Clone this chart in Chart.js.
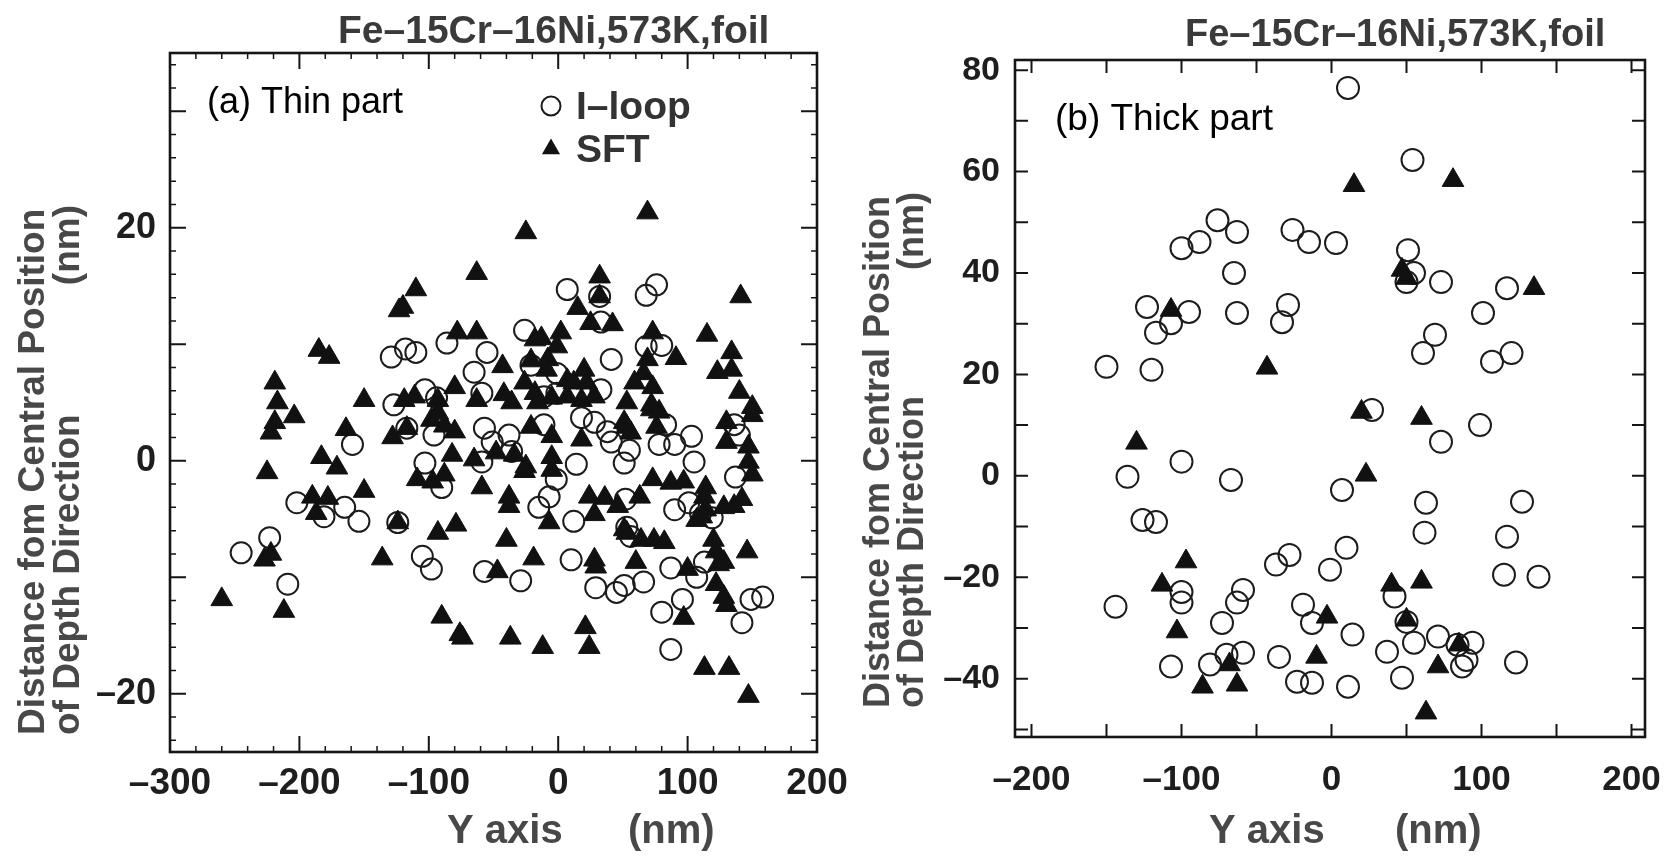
<!DOCTYPE html>
<html><head><meta charset="utf-8">
<script src="https://cdn.jsdelivr.net/npm/chart.js@4.4.1/dist/chart.umd.min.js"></script>
<style>
html,body{margin:0;padding:0;background:#fff;}
#wrap{position:relative;width:1670px;height:857px;overflow:hidden;background:#fff;}
canvas{position:absolute;top:0;}
#ca{left:0px}
#cb{left:845px}
</style></head><body>
<div id="wrap"><canvas id="ca" width="870" height="857"></canvas><canvas id="cb" width="840" height="857"></canvas></div>
<script>
// ---------------- DATA ----------------
const chartTitle = 'Fe–15Cr–16Ni,573K,foil';
const seriesNames = ['I–loop', 'SFT'];
const panelNames = ['(a) Thin part', '(b) Thick part'];
const xTitle = 'Y axis';
const xUnit = '(nm)';
const yTitle1 = 'Distance fom Central Position';
const yTitle2 = 'of Depth Direction';
const yUnit = '(nm)';

// Panel (a) thin part: [Y axis (nm), depth distance (nm)]
const iloopThin = [
[-245,-7.9],[-223,-6.6],[-209,-10.6],[-202,-3.6],[-181,-4.8],[-165,-4.0],[-154,-5.2],[-159,1.4],[-124,-5.3],[-127,4.8],
[-129,8.9],[-118,9.6],[-110,9.3],[-86,10.1],[-55,9.3],[-26,11.2],[-21,8.2],[-1,7.5],[-65,7.6],[-59,5.8],[-103,6.1],[-94,5.4],[-11,5.5],[-1,5.8],[33,6.1],[41,8.7],[33,11.9],[7,14.7],[32,14.1],
[-117,2.8],[-96,2.2],[-57,2.8],[-51,1.6],[-38,2.2],[-11,3.1],[18,3.7],[28,3.3],[38,2.5],[41,1.6],[51,-0.2],[-103,-0.2],[-90,-2.3],[-59,-0.1],[-36,0.8],[14,-0.3],[-1.5,-1.6],[-7,-3.1],[-15,-4.0],[12,-5.2],[52,-3.3],[-105,-8.2],[-98,-9.3],[-57,-9.5],[-29,-10.3],[10,-8.5],[29,-10.9],[45,-11.3],[51,-10.7],
[83,3.1],[78,1.4],[90,1.4],[103,2.1],[105,-0.1],[55,0.9],[136,3.1],[140,2.2],[137,-1.4],[90,-4.2],[101,-3.6],[110,-4.5],[119,-4.9],[53,-5.7],[56,-6.5],[66,-10.4],[87,-9.2],[107,-10.0],[113,-8.7],[149,-11.9],[158,-11.7],[142,-13.9],[80,-13.0],[96,-11.9],[87,-16.2],
[68,14.2],[76,15.1],[68,9.8],[80,9.9]
];
const sftThin = [
[-260,-11.9],[-212,-12.9],[-227,-8.5],[-222,-8.0],[-136,-8.4],[-124,-5.3],[-150,-2.6],[-190,-3.1],[-178,-3.2],[-187,-4.5],[-225,-1.0],[-183,0.3],[-171,-0.6],[-222,2.4],[-164,2.7],[-128,2.0],[-219,3.3],[-204,3.8],[-217,5.0],[-150,5.2],[-219,6.7],[-185,9.5],[-177,8.9],[-123,12.9],
[-25,19.6],[-63,16.1],[-110,14.7],[-120,13.2],[32,15.8],[32,14.1],[15,13.1],[25,11.8],[42,11.7],[-18,10.4],[-13,10.5],[2,11.0],[-1,9.8],[-78,11.0],[-63,11.0],[-43,8.1],[-21,8.6],[-8,8.7],[-9,7.8],[-80,6.3],[-93,5.2],[-111,5.5],[-119,5.2],[-63,5.2],[-42,5.7],[-36,5.0],[-26,6.7],[-18,5.8],[-16,5.0],[-5,5.4],[7,6.9],[12,6.7],[20,7.8],[22,6.7],[7,5.5],[18,5.2],[28,5.5],
[-117,2.8],[-93,4.1],[-98,3.5],[-88,3.0],[-80,2.5],[-21,2.9],[-5,2.1],[18,1.8],[51,3.3],[-82,0.5],[-109,-1.6],[-97,-1.8],[-88,-1.2],[-65,0.1],[-48,0.7],[-34,0.5],[-25,-0.5],[-26,-0.9],[-5,0.3],[-5,-0.8],[-59,-2.3],[-38,-3.1],[-38,-3.9],[-7,-5.3],[24,-3.1],[36,-3.2],[28,-4.6],[46,-3.9],[51,-5.9],[-93,-6.2],[-79,-5.5],[-40,-6.8],[-47,-9.5],[-19,-8.4],[28,-8.5],[29,-9.1],[-90,-13.4],[-76,-14.9],[-74,-15.2],[-37,-15.2],[-12,-16.0],[21,-14.3],[24,-16.0],
[72,4.4],[78,4.2],[53,2.9],[56,2.4],[76,2.9],[130,3.3],[150,3.9],[130,1.6],[147,1.2],[147,-0.1],[150,-1.2],[73,-1.6],[87,-1.9],[97,-1.8],[63,-3.1],[114,-2.3],[113,-3.1],[114,-4.2],[107,-5.1],[111,-4.8],[128,-4.0],[136,-3.9],[142,-3.3],[53,-6.2],[64,-6.8],[74,-6.8],[82,-7.0],[60,-8.7],[100,-9.3],[120,-6.8],[122,-7.8],[124,-8.9],[128,-8.7],[146,-7.8],[122,-10.6],[128,-11.7],[130,-12.4],[97,-13.5],[113,-17.8],[132,-17.8],[147,-20.2],
[69,21.3],[141,14.1],[73,11.0],[115,10.8],[91,8.8],[69,8.7],[66,7.5],[73,6.3],[134,9.3],[134,7.8],[123,7.6],[59,6.7],[53,5.0],[140,5.9],[150,4.6],[72,4.8]
];

// Panel (b) thick part
const iloopThick = [
[-76,50.4],[-63,48.1],[-100,44.9],[-88,46.1],[-26,48.5],[-15,46.1],[3,45.9],[-65,40.0],[-123,33.3],[-95,32.3],[-63,32.1],[-117,28.2],[-107,30.1],[-29,33.7],[-33,30.3],[-150,21.5],[-120,20.9],
[11,76.5],[54,62.3],[51,44.5],[55,40.0],[50,38.2],[73,38.2],[117,37.0],[101,32.1],[69,27.8],[61,24.2],[107,22.5],[120,24.2],
[-136,-0.2],[-100,2.8],[-67,-0.8],[-126,-8.7],[-117,-9.1],[-144,-25.8],[-100,-22.9],[-100,-25.0],[-37,-17.5],[-28,-15.6],[-59,-22.5],[-63,-25.0],[-73,-29.0],[-107,-37.6],[-81,-37.2],[-70,-35.3],[-59,-34.9],[-35,-35.7],[-23,-40.6],[-13,-40.8],[-19,-25.4],[-13,-29.0],
[27,13.0],[99,10.0],[73,6.7],[7,-2.8],[63,-5.3],[127,-5.1],[62,-11.2],[117,-12.0],[10,-14.2],[-1,-18.5],[115,-19.5],[138,-19.9],[42,-23.8],[50,-28.8],[14,-31.3],[37,-34.7],[55,-32.9],[71,-31.7],[84,-33.3],[94,-32.9],[90,-36.3],[87,-37.6],[123,-36.8],[47,-39.8],[11,-41.6]
];
const sftThick = [
[-107,32.7],[-43,21.3],[15,57.3],[81,58.3],[47,40.6],[50,39.0],[135,37.0],
[-130,6.5],[-97,-16.9],[-113,-21.5],[-103,-30.7],[-86,-41.6],[-68,-37.2],[-63,-41.2],
[20,12.6],[60,11.4],[23,0.2],[40,-21.5],[60,-20.9],[-3,-27.8],[50,-28.4],[-10,-35.7],[85,-33.3],[71,-37.6],[63,-46.7]
];

// axis ranges and tick values
const rangeA = {xMin:-300, xMax:200, yMin:-25, yMax:35};
const rangeB = {xMin:-211, xMax:209, yMin:-51.5, yMax:82};
const xLabelsA = [-300,-200,-100,0,100,200];
const yLabelsA = [-20,0,20];
const xMajorA = [-300,-200,-100,0,100,200];
const yMajorA = [-20,-10,0,10,20,30];
const xMinorA = [-280,-260,-240,-220,-180,-160,-140,-120,-80,-60,-40,-20,20,40,60,80,120,140,160,180];
const yMinorA = [-24,-22,-18,-16,-14,-12,-8,-6,-4,-2,2,4,6,8,12,14,16,18,22,24,26,28,32,34];
const xLabelsB = [-200,-100,0,100,200];
const yLabelsB = [-40,-20,0,20,40,60,80];
const xMajorB = [-200,-150,-100,-50,0,50,100,150,200];
const yMajorB = [-50,-40,-30,-20,-10,0,10,20,30,40,50,60,70,80];
const xMinorB = [];
const yMinorB = [];

// ---------------- DRAWING ----------------
const FONT = "'Liberation Sans', Arial, Helvetica, sans-serif";
const fmt = v => (v < 0 ? '–' + Math.abs(v) : String(v));

function makeChart(id, cfg) {
  const decor = {
    id: 'decor' + id,
    afterDatasetsDraw(chart) {
      const {ctx, chartArea: a, scales: {x, y}} = chart;
      ctx.save();
      ctx.strokeStyle = '#151515';
      ctx.lineCap = 'butt';
      const drawX = (vals, len) => vals.forEach(v => {
        const p = x.getPixelForValue(v);
        ctx.moveTo(p, a.bottom); ctx.lineTo(p, a.bottom - len);
        ctx.moveTo(p, a.top); ctx.lineTo(p, a.top + len);
      });
      const drawY = (vals, len) => vals.forEach(v => {
        const p = y.getPixelForValue(v);
        ctx.moveTo(a.left, p); ctx.lineTo(a.left + len, p);
        ctx.moveTo(a.right, p); ctx.lineTo(a.right - len, p);
      });
      ctx.lineWidth = 2;
      ctx.beginPath();
      drawX(cfg.xMajor, cfg.majorLen); drawY(cfg.yMajor, cfg.majorLen);
      ctx.stroke();
      ctx.lineWidth = 1.5;
      ctx.beginPath();
      drawX(cfg.xMinor, cfg.minorLen); drawY(cfg.yMinor, cfg.minorLen);
      ctx.stroke();
      ctx.lineWidth = 2.6;
      ctx.strokeRect(a.left, a.top, a.right - a.left, a.bottom - a.top);
      ctx.restore();
    },
    afterDraw(chart) {
      const ctx = chart.ctx;
      ctx.save();
      ctx.fillStyle = '#3a3a3a';
      ctx.font = 'bold ' + cfg.titleSize + 'px ' + FONT;
      ctx.textAlign = 'left'; ctx.textBaseline = 'alphabetic';
      ctx.fillText(chartTitle, cfg.titleX, cfg.titleY);
      ctx.fillStyle = '#000';
      ctx.font = cfg.panelSize + 'px ' + FONT;
      ctx.fillText(cfg.panel, cfg.panelX, cfg.panelY);
      ctx.fillStyle = '#484848';
      ctx.font = 'bold ' + cfg.axisSize + 'px ' + FONT;
      ctx.fillText(xTitle, cfg.xtX, cfg.xtY);
      ctx.fillText(xUnit, cfg.xuX, cfg.xtY);
      const rot = (text, cx, startY, align) => {
        ctx.save();
        ctx.translate(cx, startY);
        ctx.rotate(-Math.PI / 2);
        ctx.textAlign = align; ctx.textBaseline = 'middle';
        ctx.fillText(text, 0, 0);
        ctx.restore();
      };
      ctx.font = 'bold ' + cfg.ySize + 'px ' + FONT;
      rot(yTitle1, cfg.y1X, cfg.yBottom, 'left');
      rot(yTitle2, cfg.y2X, cfg.yBottom, 'left');
      rot(yUnit, cfg.y2X, cfg.yUnitTop, 'right');
      if (cfg.legend) {
        const L = cfg.legend;
        ctx.strokeStyle = '#1a1a1a'; ctx.lineWidth = 2;
        ctx.beginPath(); ctx.arc(L.x, L.y1, L.r, 0, Math.PI * 2); ctx.stroke();
        ctx.fillStyle = '#111';
        const tr = L.tr;
        ctx.beginPath();
        ctx.moveTo(L.x, L.y2 - tr);
        ctx.lineTo(L.x + tr * Math.sin(2 * Math.PI / 3), L.y2 + tr / 2);
        ctx.lineTo(L.x - tr * Math.sin(2 * Math.PI / 3), L.y2 + tr / 2);
        ctx.closePath(); ctx.fill();
        ctx.fillStyle = '#333';
        ctx.font = 'bold ' + L.size + 'px ' + FONT;
        ctx.textAlign = 'left'; ctx.textBaseline = 'middle';
        ctx.fillText(seriesNames[0], L.tx, L.y1 + 2);
        ctx.fillText(seriesNames[1], L.tx, L.y2 + 2);
      }
      ctx.restore();
    }
  };
  const tickFont = {family: FONT, size: cfg.tickSize, weight: 'bold'};
  return new Chart(document.getElementById(id), {
    type: 'scatter',
    data: {
      datasets: [
        {label: seriesNames[1], data: cfg.sft.map(([x, y]) => ({x, y})), pointStyle: 'triangle',
         pointRadius: cfg.triR, pointHoverRadius: cfg.triR, backgroundColor: '#111', borderColor: '#111', borderWidth: 1, order: 0},
        {label: seriesNames[0], data: cfg.loop.map(([x, y]) => ({x, y})), pointStyle: 'circle',
         pointRadius: cfg.circR, pointHoverRadius: cfg.circR, backgroundColor: 'rgba(255,255,255,0)', borderColor: '#1c1c1c', borderWidth: 2, order: 1}
      ]
    },
    options: {
      responsive: false, animation: false, devicePixelRatio: 1, events: [],
      layout: {padding: {top: cfg.padTop, right: cfg.padRight, left: 0, bottom: 0}},
      plugins: {legend: {display: false}, tooltip: {enabled: false}, title: {display: false}},
      scales: {
        x: {
          type: 'linear', position: 'bottom', min: cfg.range.xMin, max: cfg.range.xMax,
          grid: {display: false, drawTicks: false}, border: {display: false},
          ticks: {font: tickFont, color: '#1e1e1e', padding: cfg.xPad, autoSkip: false, maxRotation: 0, callback: fmt},
          afterBuildTicks: s => { s.ticks = cfg.xLabels.map(v => ({value: v})); },
          afterFit: s => { s.height = cfg.xAxisH; }
        },
        y: {
          type: 'linear', position: 'left', min: cfg.range.yMin, max: cfg.range.yMax,
          grid: {display: false, drawTicks: false}, border: {display: false},
          ticks: {font: {family: FONT, size: cfg.yTickSize, weight: 'bold'}, color: '#1e1e1e', padding: cfg.yPad, autoSkip: false, callback: fmt},
          afterBuildTicks: s => { s.ticks = cfg.yLabels.map(v => ({value: v})); },
          afterFit: s => { s.width = cfg.yAxisW; }
        }
      }
    },
    plugins: [decor]
  });
}

// Panel (a): chart area 170..817 x 53..752
makeChart('ca', {
  loop: iloopThin, sft: sftThin, range: rangeA,
  xLabels: xLabelsA, yLabels: yLabelsA, xMajor: xMajorA, yMajor: yMajorA, xMinor: xMinorA, yMinor: yMinorA,
  majorLen: 16, minorLen: 6,
  padTop: 53, padRight: 53, yAxisW: 170, xAxisH: 105, xPad: 10, yPad: 14,
  tickSize: 37, yTickSize: 36, triR: 12.5, circR: 10.5,
  titleSize: 39, titleX: 338, titleY: 43,
  panel: panelNames[0], panelSize: 36, panelX: 207, panelY: 113,
  axisSize: 40, xtX: 447, xuX: 628, xtY: 843,
  ySize: 37, y1X: 34, y2X: 69, yBottom: 735, yUnitTop: 205,
  legend: {x: 551, y1: 106, y2: 149, r: 9.5, tr: 10.5, tx: 576, size: 39}
});

// Panel (b): canvas at x=845, chart area 1015..1645 x 60..737 -> local 170..800
makeChart('cb', {
  loop: iloopThick, sft: sftThick, range: rangeB,
  xLabels: xLabelsB, yLabels: yLabelsB, xMajor: xMajorB, yMajor: yMajorB, xMinor: xMinorB, yMinor: yMinorB,
  majorLen: 13, minorLen: 5,
  padTop: 60, padRight: 40, yAxisW: 170, xAxisH: 120, xPad: 22, yPad: 15,
  tickSize: 35, yTickSize: 34, triR: 12.5, circR: 11,
  titleSize: 38, titleX: 340, titleY: 46,
  panel: panelNames[1], panelSize: 37, panelX: 210, panelY: 130,
  axisSize: 40, xtX: 364, xuX: 550, xtY: 843,
  ySize: 36, y1X: 34, y2X: 68, yBottom: 708, yUnitTop: 192,
  legend: null
});
</script>
</body></html>
